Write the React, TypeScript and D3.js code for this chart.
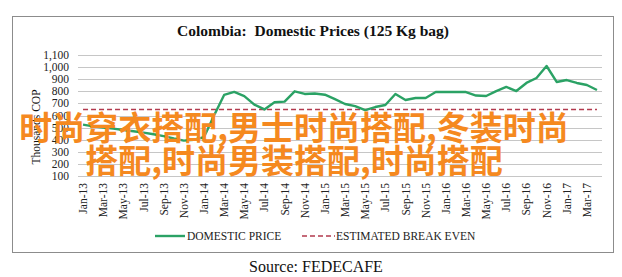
import React from "react";
import * as d3 from "d3";

const months = [
  "Jan-13","Feb-13","Mar-13","Apr-13","May-13","Jun-13","Jul-13","Aug-13","Sep-13","Oct-13","Nov-13","Dec-13",
  "Jan-14","Feb-14","Mar-14","Apr-14","May-14","Jun-14","Jul-14","Aug-14","Sep-14","Oct-14","Nov-14","Dec-14",
  "Jan-15","Feb-15","Mar-15","Apr-15","May-15","Jun-15","Jul-15","Aug-15","Sep-15","Oct-15","Nov-15","Dec-15",
  "Jan-16","Feb-16","Mar-16","Apr-16","May-16","Jun-16","Jul-16","Aug-16","Sep-16","Oct-16","Nov-16","Dec-16",
  "Jan-17","Feb-17","Mar-17","Apr-17",
];

const domesticPrice = [
  525, 510, 500, 492, 480, 470, 458, 445, 430, 410, 392, 400,
  420, 600, 770, 795, 760, 690, 650, 710, 715, 800, 778, 782,
  772, 735, 695, 678, 645, 670, 687, 778, 728, 745, 745, 794,
  794, 794, 794, 765, 761, 802, 836, 802, 869, 910, 1009, 877,
  893, 869, 852, 811,
];

const breakEven = 650;

const yTicks = [100, 200, 300, 400, 500, 600, 700, 800, 900, 1000, 1100];

const title = "Colombia:  Domestic Prices (125 Kg bag)";
const yTitle = "Thousands COP";
const legendLabels = ["DOMESTIC PRICE", "ESTIMATED BREAK EVEN"];
const source = "Source: FEDECAFE";
const watermark = ["时尚穿衣搭配,男士时尚搭配,冬装时尚", "搭配,时尚男装搭配,时尚搭配"];

const W = 622;
const H = 277;
const serif = "'Liberation Serif', 'Times New Roman', serif";
const green = "#2ba265";
const red = "#b23a4e";

export default function App() {
  const x = d3.scaleBand<string>().domain(months).range([78, 602]);
  const y = d3.scaleLinear().domain([100, 1100]).range([176, 55]);
  const cx = (m: string) => (x(m) as number) + x.bandwidth() / 2;

  const line = d3
    .line<number>()
    .x((_, i) => cx(months[i]))
    .y((d) => y(d));

  const beLine = d3
    .line<string>()
    .x((m) => cx(m))
    .y(() => y(breakEven));

  const tickMonths = months.filter((_, i) => i % 2 === 0);
  const serifStyle = { fontFamily: serif } as React.CSSProperties;

  return (
    <svg
      width={W}
      height={H}
      style={{ position: "absolute", left: 0, top: 0, background: "#fff" }}
    >
      <rect x={0} y={0} width={W} height={H} fill="#fff" />
      <rect x={12.5} y={16.5} width={601} height={236} fill="none" stroke="#8c8c8c" strokeWidth={1} />
      <text
        x={313}
        y={36}
        textAnchor="middle"
        fontWeight="bold"
        fontSize={15.5}
        fill="#111"
        style={{ whiteSpace: "pre", fontFamily: serif }}
      >
        {title}
      </text>

      {yTicks.map((t) => (
        <g key={t}>
          <line x1={78} x2={602} y1={Math.round(y(t)) + 0.5} y2={Math.round(y(t)) + 0.5} stroke="#c6c6c6" strokeWidth={1} />
          <text
            x={69}
            y={y(t)}
            dy="0.35em"
            textAnchor="end"
            fontSize={11.5}
            fill="#222"
            style={serifStyle}
          >
            {d3.format(",")(t)}
          </text>
        </g>
      ))}

      <text
        transform={`translate(40,127) rotate(-90)`}
        textAnchor="middle"
        fontSize={11.5}
        fill="#111"
        style={serifStyle}
      >
        {yTitle}
      </text>

      {tickMonths.map((m) => (
        <text
          key={m}
          transform={`translate(${cx(m)},183) rotate(-90)`}
          textAnchor="end"
          dy="0.35em"
          fontSize={11.5}
          fill="#222"
          style={serifStyle}
        >
          {m}
        </text>
      ))}

      <path d={beLine(months) || ""} fill="none" stroke={red} strokeWidth={1.6} strokeDasharray="5,3" />
      <path d={line(domesticPrice) || ""} fill="none" stroke={green} strokeWidth={2.4} strokeLinejoin="round" />

      <g fontSize={11.5} fill="#222" style={serifStyle}>
        <line x1={155} x2={185} y1={236} y2={236} stroke={green} strokeWidth={2.4} />
        <text x={187} y={236} dy="0.35em">{legendLabels[0]}</text>
        <line x1={302} x2={335} y1={236} y2={236} stroke={red} strokeWidth={1.6} strokeDasharray="5,3" />
        <text x={336} y={236} dy="0.35em">{legendLabels[1]}</text>
      </g>

      <text x={316} y={272} textAnchor="middle" fontSize={16} fill="#111" style={serifStyle}>
        {source}
      </text>

      <g fontFamily="'Noto Sans CJK SC', sans-serif" fontWeight="bold" fontSize={33} fill="#f5891f" textAnchor="middle">
        <text x={294} y={126} dominantBaseline="central">{watermark[0]}</text>
        <text x={294} y={159} dominantBaseline="central">{watermark[1]}</text>
      </g>
    </svg>
  );
}
